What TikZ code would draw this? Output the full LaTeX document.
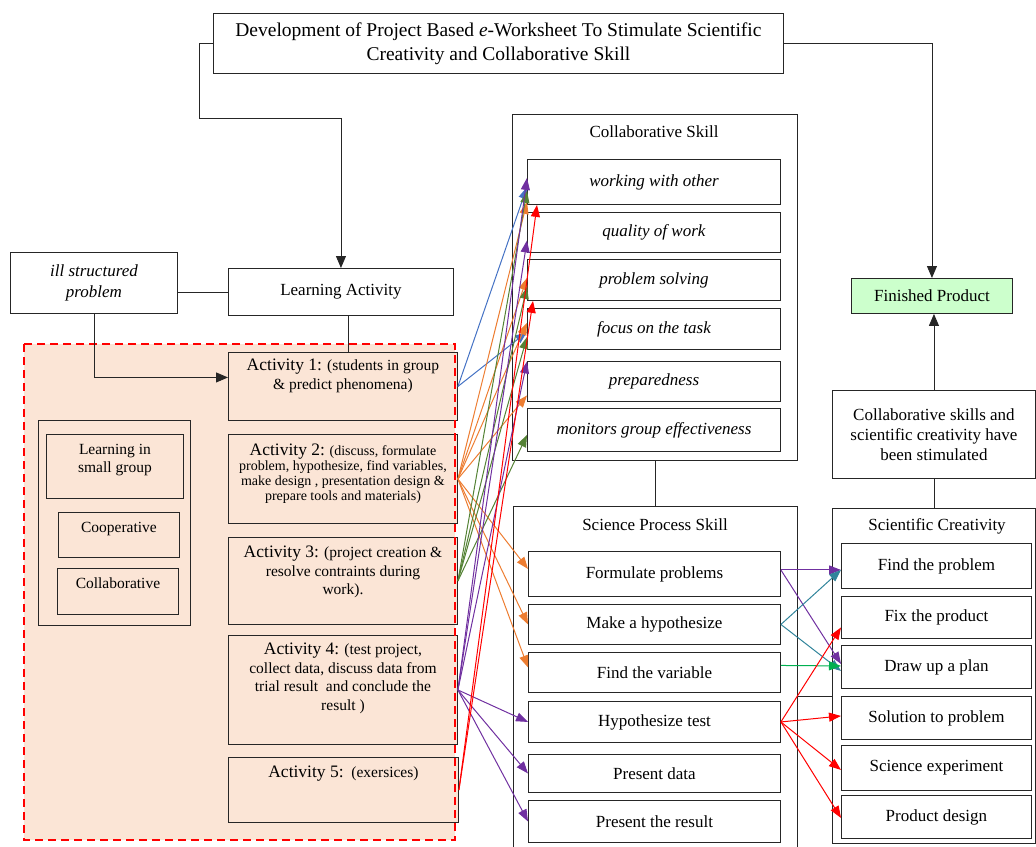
\documentclass[tikz,border=0pt]{standalone}
\usepackage{fontspec}
\setmainfont{Liberation Serif}
\usetikzlibrary{arrows.meta,positioning,calc}
\definecolor{peach}{HTML}{FBE5D6}
\definecolor{mint}{HTML}{CCFFCC}
\definecolor{lblue}{HTML}{4472C4}
\definecolor{lorange}{HTML}{ED7D31}
\definecolor{lgreen}{HTML}{548235}
\definecolor{lpurple}{HTML}{7030A0}
\definecolor{lteal}{HTML}{31849B}
\definecolor{lgreenb}{HTML}{00B050}

\begin{document}
\begin{tikzpicture}[x=1pt,y=-1pt,
  font=\fontsize{17}{20}\selectfont,
  box/.style={draw=black!85,line width=0.9pt,anchor=north west,inner sep=0pt,align=center},
  txt/.style={inner sep=0pt,align=center},
  small/.style={font=\fontsize{15.5}{18.5}\selectfont},
  plain/.style={line width=0.9pt,draw=black!85},
  arr/.style={-{Triangle[length=12pt,width=10pt]},line width=0.9pt,draw=black!85},
  link/.style={-{Triangle[length=12pt,width=9pt]},line width=1pt}]
\useasboundingbox (0,0) rectangle (1036,846);

% shaded area behind the activities
\fill[peach] (24,344) rectangle (455,840);

\node[box,minimum width=570,minimum height=60,font=\fontsize{19.5}{24}\selectfont] (title) at (213,13)
  {Development of Project Based \textit{e}-Worksheet To Stimulate Scientific\\Creativity and Collaborative Skill};
\node[box,minimum width=167,minimum height=61,font=\fontsize{17}{21}\selectfont\itshape] (ill) at (10,252) {ill structured\\problem};
\node[box,minimum width=225,minimum height=47] (la) at (228,268) {Learning Activity};

% activities
\node[box,fill=peach,minimum width=229,minimum height=68] (a1) at (228,352) {};
\node[box,fill=peach,minimum width=229,minimum height=89] (a2) at (228,434) {};
\node[box,fill=peach,minimum width=229,minimum height=87] (a3) at (228,537) {};
\node[box,fill=peach,minimum width=229,minimum height=109] (a4) at (228,635) {};
\node[box,fill=peach,minimum width=230,minimum height=65] (a5) at (228,757) {};
\node[txt,small,below=7pt of a1.north] (a1t) {{\fontsize{17.5}{19}\selectfont Activity 1:} (students in group\\\& predict phenomena)};
\node[txt,font=\fontsize{14}{15}\selectfont,below=10pt of a2.north] (a2t) {{\fontsize{17.5}{16}\selectfont Activity 2:} (discuss, formulate\\problem, hypothesize, find variables,\\make design , presentation design \&\\prepare tools and materials)};
\node[txt,small,below=9pt of a3.north] (a3t) {{\fontsize{17.5}{19}\selectfont Activity 3:} (project creation \&\\resolve contraints during\\work).};
\node[txt,small,below=8pt of a4.north] (a4t) {{\fontsize{17.5}{19}\selectfont Activity 4:} (test project,\\collect data, discuss data from\\trial result\ \ and conclude the\\result )};
\node[txt,small,below=9pt of a5.north] (a5t) {{\fontsize{17.5}{19}\selectfont Activity 5:}\ \ (exersices)};

% learning in small group
\node[box,minimum width=152,minimum height=205] (grp) at (38,420) {};
\node[box,minimum width=137,minimum height=64] (lsg) at (46,434) {};
\node[box,minimum width=121,minimum height=45] (coop) at (58,512) {};
\node[box,minimum width=121,minimum height=46] (colb) at (57,568) {};
\node[txt,small,below=10pt of lsg.north] (lsgt) {Learning in\\small group};
\node[txt,small,below=10pt of coop.north] (coopt) {Cooperative};
\node[txt,small,below=10pt of colb.north] (colbt) {Collaborative};

\draw[red,dash pattern=on 8pt off 5pt,line width=1.3pt] (24,344) rectangle (455,840);

% collaborative skill
\node[box,minimum width=285,minimum height=346] (cs) at (512,114) {};
\node[txt] (cst) at (654,132) {Collaborative Skill};
\begin{scope}[every node/.append style={font=\fontsize{17}{20}\selectfont\itshape}]
\node[box,minimum width=253,minimum height=45] (w) at (527,159) {working with other};
\node[box,minimum width=253,minimum height=40] (q) at (527,212) {quality of work};
\node[box,minimum width=253,minimum height=41] (ps) at (527,259) {problem solving};
\node[box,minimum width=253,minimum height=41] (ft) at (527,308) {focus on the task};
\node[box,minimum width=253,minimum height=40] (pr) at (527,361) {preparedness};
\node[box,minimum width=253,minimum height=43] (mg) at (527,408) {monitors group effectiveness};
\end{scope}

% science process skill
\node[box,minimum width=284,minimum height=345] (sps) at (513,506) {};
\node[txt] (spst) at (655,525) {Science Process Skill};
\node[box,minimum width=252,minimum height=45] (formp) at (528,551) {Formulate problems};
\node[box,minimum width=252,minimum height=40] (hyp) at (528,604) {Make a hypothesize};
\node[box,minimum width=252,minimum height=40] (var) at (528,652) {Find the variable};
\node[box,minimum width=252,minimum height=41] (test) at (528,701) {Hypothesize test};
\node[box,minimum width=252,minimum height=38] (pdata) at (528,754) {Present data};
\node[box,minimum width=252,minimum height=42] (pres) at (528,800) {Present the result};

% scientific creativity
\node[box,minimum width=203,minimum height=335] (sc) at (832,508) {};
\node[txt] (sct) at (937,526) {Scientific Creativity};
\node[box,minimum width=190,minimum height=45] (find) at (841,543) {Find the problem};
\node[box,minimum width=190,minimum height=42] (fix) at (841,596) {Fix the product};
\node[box,minimum width=190,minimum height=43] (plan) at (841,645) {Draw up a plan};
\node[box,minimum width=190,minimum height=43] (sol) at (841,696) {Solution to problem};
\node[box,minimum width=190,minimum height=45] (exp) at (841,745) {Science experiment};
\node[box,minimum width=190,minimum height=43] (pdes) at (841,795) {Product design};

\node[box,minimum width=203,minimum height=88] (stim) at (832,390) {Collaborative skills and\\scientific creativity have\\been stimulated};
\node[box,fill=mint,minimum width=161,minimum height=35] (fprod) at (851,278) {Finished Product};

% black connectors
\draw[arr] (title.west) -- ++(-14,0) -- ++(0,75) -| (la.north);
\draw[arr] (title.east) -| (fprod.north);
\draw[plain] (ill.east |- la.west) -- (la.west);
\draw[arr] (ill.south) |- ([yshift=9pt]a1.west);
\draw[plain] ([xshift=7pt]la.south) -- ([xshift=7pt]la.south |- a1.north);
\draw[plain] (cs.south) -- (cs.south |- sps.north);
\draw[plain] (stim.south) -- (stim.south |- sc.north);
\draw[arr] (stim.north) -- (stim.north |- fprod.south);
\draw[plain] (sps.east |- sol.north) -- (sc.west |- sol.north);

% activities to skills
\foreach \n/\dy in {w/-5,ft/-3}
  \draw[link,lblue] (a1.east) -- ([yshift=\dy pt]\n.west);
\foreach \n/\dy in {w/-20,ps/2,ft/6,pr/-14,formp/5,hyp/0,var/5}
  \draw[link,lorange] (a2.east) -- ([yshift=\dy pt]\n.west);
\foreach \n/\dy in {w/-9,ps/-7,ft/-8,mg/-5}
  \draw[link,lgreen] (a3.east) -- ([yshift=\dy pt]\n.west);
\foreach \n/\dy in {w/4,q/-8,pr/20,test/0,pdata/0,pres/0}
  \draw[link,lpurple] (a4.east) -- ([yshift=\dy pt]\n.west);
\foreach \n/\dx in {w/10,ps/6}
  \draw[link,red] (a5.east) -- ([xshift=\dx pt]\n.south west);

% process skills to creativity
\draw[link,lpurple] ([yshift=4pt]formp.east) -- ([yshift=-4pt]find.west);
\draw[link,lpurple] ([yshift=4pt]formp.east) -- ([yshift=3pt]plan.west);
\draw[link,lteal] (hyp.east) -- ([yshift=-4pt]find.west);
\draw[link,lteal] (hyp.east) -- ([yshift=-4pt]plan.west);
\draw[link,lgreenb] ([yshift=7pt]var.east) -- ([yshift=1pt]plan.west);
\foreach \n/\dy in {fix/-10,sol/2,exp/-2,pdes/-1}
  \draw[link,red] (test.east) -- ([yshift=\dy pt]\n.west);
\end{tikzpicture}
\end{document}
